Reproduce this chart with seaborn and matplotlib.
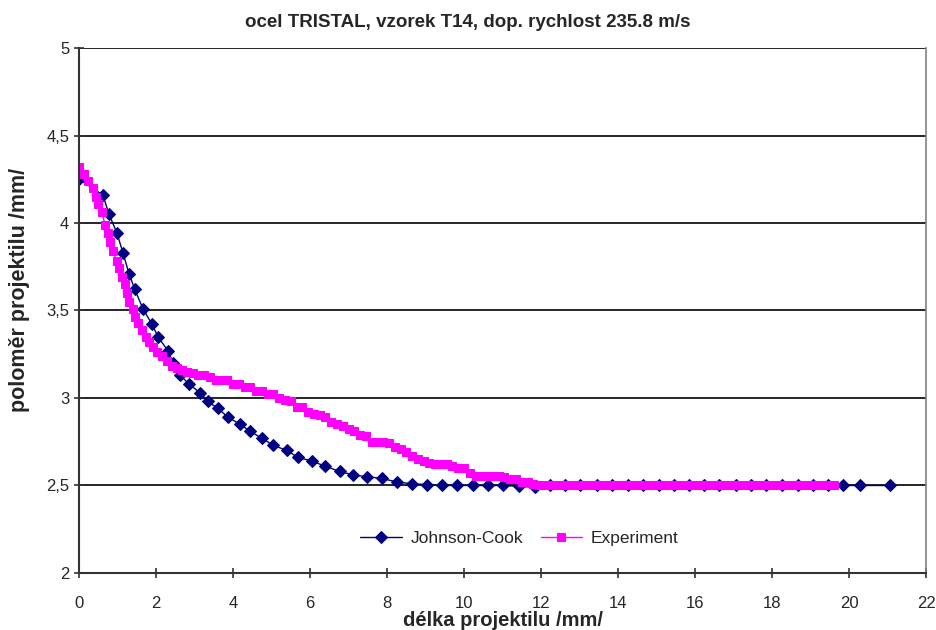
import matplotlib
matplotlib.use("Agg")
import matplotlib.pyplot as plt
import seaborn as sns
import pandas as pd
from matplotlib.ticker import FuncFormatter

# Johnson-Cook simulation (x = length, y = radius)
jc_x = [0.00, 0.62, 0.78, 0.99, 1.14, 1.30, 1.45, 1.66, 1.90, 2.05, 2.31, 2.44,
        2.62, 2.86, 3.14, 3.35, 3.61, 3.87, 4.18, 4.44, 4.75, 5.04, 5.40, 5.69,
        6.05, 6.39, 6.78, 7.12, 7.48, 7.87, 8.26, 8.65, 9.04, 9.43, 9.83, 10.23,
        10.63, 11.02, 11.44, 11.84, 12.23, 12.62, 13.01, 13.45, 13.85, 14.25,
        14.64, 15.07, 15.45, 15.85, 16.24, 16.63, 17.06, 17.45, 17.84, 18.25,
        18.68, 19.07, 19.46, 19.85, 20.29, 21.06]
jc_y = [4.25, 4.16, 4.05, 3.94, 3.83, 3.71, 3.62, 3.51, 3.42, 3.35, 3.27, 3.20,
        3.13, 3.08, 3.03, 2.98, 2.94, 2.89, 2.85, 2.81, 2.77, 2.73, 2.70, 2.66,
        2.64, 2.61, 2.58, 2.56, 2.55, 2.54, 2.52, 2.51, 2.505, 2.50, 2.50, 2.50,
        2.50, 2.50, 2.495, 2.49, 2.50, 2.50, 2.50, 2.50, 2.50, 2.50,
        2.50, 2.50, 2.50, 2.50, 2.50, 2.50, 2.50, 2.50, 2.50, 2.50,
        2.50, 2.50, 2.50, 2.50, 2.50, 2.50]

# measured profile
exp_x = [0.00, 0.12, 0.24, 0.36, 0.44, 0.50, 0.59, 0.68, 0.76, 0.81, 0.88, 0.98,
         1.05, 1.11, 1.19, 1.25, 1.31, 1.39, 1.45, 1.54, 1.63, 1.74, 1.83, 1.93,
         2.03, 2.15, 2.28, 2.41, 2.54, 2.67, 2.80, 2.95, 3.10, 3.25, 3.40, 3.55,
         3.70, 3.85, 4.00, 4.15, 4.30, 4.45, 4.60, 4.75, 4.90, 5.05, 5.20, 5.35,
         5.50, 5.65, 5.80, 5.95, 6.10, 6.25, 6.40, 6.55, 6.70, 6.85, 7.00, 7.15,
         7.30, 7.45, 7.60, 7.75, 7.90, 8.05, 8.20, 8.35, 8.50, 8.65, 8.80, 8.95,
         9.10, 9.25, 9.40, 9.55, 9.70, 9.85, 10.00, 10.15, 10.30, 10.45, 10.60,
         10.75, 10.90, 11.05, 11.20, 11.35, 11.50, 11.65, 11.80, 11.95,
         12.10, 12.25, 12.40, 12.55, 12.70, 12.85, 13.00, 13.15, 13.30, 13.45,
         13.60, 13.75, 13.90, 14.05, 14.20, 14.35, 14.50, 14.65, 14.80, 14.95,
         15.10, 15.25, 15.40, 15.55, 15.70, 15.85, 16.00, 16.15, 16.30, 16.45,
         16.60, 16.75, 16.90, 17.05, 17.20, 17.35, 17.50, 17.65, 17.80, 17.95,
         18.10, 18.25, 18.40, 18.55, 18.70, 18.85, 19.00, 19.15, 19.30, 19.45,
         19.60]
exp_y = [4.32, 4.28, 4.24, 4.20, 4.15, 4.11, 4.06, 3.99, 3.94, 3.89, 3.84, 3.78,
         3.74, 3.69, 3.65, 3.60, 3.55, 3.51, 3.46, 3.43, 3.39, 3.35, 3.32, 3.29,
         3.26, 3.24, 3.21, 3.18, 3.17, 3.16, 3.15, 3.14, 3.13, 3.13, 3.12, 3.10,
         3.10, 3.10, 3.08, 3.08, 3.06, 3.06, 3.04, 3.04, 3.02, 3.02, 3.00, 2.99,
         2.98, 2.95, 2.95, 2.92, 2.91, 2.90, 2.89, 2.86, 2.85, 2.84, 2.82, 2.81,
         2.79, 2.78, 2.75, 2.75, 2.75, 2.74, 2.72, 2.71, 2.69, 2.67, 2.65, 2.64,
         2.63, 2.62, 2.62, 2.62, 2.61, 2.60, 2.60, 2.57, 2.555, 2.555, 2.555,
         2.555, 2.555, 2.55, 2.535, 2.535, 2.52, 2.52, 2.51, 2.50,
         2.50, 2.50, 2.50, 2.50, 2.50, 2.50, 2.50, 2.50, 2.50, 2.50,
         2.50, 2.50, 2.50, 2.50, 2.50, 2.50, 2.50, 2.50, 2.50, 2.50,
         2.50, 2.50, 2.50, 2.50, 2.50, 2.50, 2.50, 2.50, 2.50, 2.50,
         2.50, 2.50, 2.50, 2.50, 2.50, 2.50, 2.50, 2.50, 2.50, 2.50,
         2.50, 2.50, 2.50, 2.50, 2.50, 2.50, 2.50, 2.50, 2.50, 2.50,
         2.50]

title = "ocel TRISTAL, vzorek T14, dop. rychlost 235.8 m/s"
xlabel = "délka projektilu /mm/"
ylabel = "poloměr projektilu /mm/"

sns.set_style("white")
plt.rcParams['font.family'] = ['Liberation Sans', 'DejaVu Sans']

fig = plt.figure(figsize=(9.36, 6.3), dpi=100)
ax = fig.add_axes([0.0844, 0.0905, 0.905, 0.8333])

jc = pd.DataFrame({'x': jc_x, 'y': jc_y})
ex = pd.DataFrame({'x': exp_x, 'y': exp_y})

sns.lineplot(data=jc, x='x', y='y', ax=ax, color='#000080', lw=1,
             marker='D', markersize=6, markeredgecolor='#000080',
             estimator=None, sort=False, label='Johnson-Cook')
sns.lineplot(data=ex, x='x', y='y', ax=ax, color='#FF00FF', lw=1,
             marker='s', markersize=5.5, markeredgecolor='#FF00FF',
             estimator=None, sort=False, label='Experiment')

ax.set_xlim(0, 22)
ax.set_ylim(2, 5)
ax.set_xticks(range(0, 23, 2))
ax.set_yticks([2, 2.5, 3, 3.5, 4, 4.5, 5])
ax.yaxis.set_major_formatter(FuncFormatter(lambda v, p: f"{v:g}".replace('.', ',')))
ax.grid(axis='y', color='black', lw=1.2)
ax.set_axisbelow(True)
for s in ['left', 'bottom']:
    ax.spines[s].set_color('#333333')
    ax.spines[s].set_linewidth(1.5)
ax.spines['top'].set_visible(False)
ax.spines['right'].set_color('#808080')
ax.spines['right'].set_linewidth(1.2)
ax.tick_params(axis='both', direction='inout', length=7, width=1.2,
               color='#333333', labelsize=12, left=True, bottom=True)
ax.tick_params(axis='x', pad=13)

ax.set_xlabel(xlabel, fontsize=14.5, fontweight='bold', labelpad=0)
ax.set_ylabel(ylabel, fontsize=15.5, fontweight='bold')
ax.yaxis.set_label_coords(-0.058, 0.54)
fig.text(0.5, 0.965, title, ha='center', va='center', fontsize=13.5,
         fontweight='bold')

ax.legend(loc='lower center', bbox_to_anchor=(0.52, 0.022), ncol=2,
          frameon=False, fontsize=12.5, handlelength=2.4, columnspacing=1.0,
          handletextpad=0.5)

fig.savefig('out.png', dpi=100)
